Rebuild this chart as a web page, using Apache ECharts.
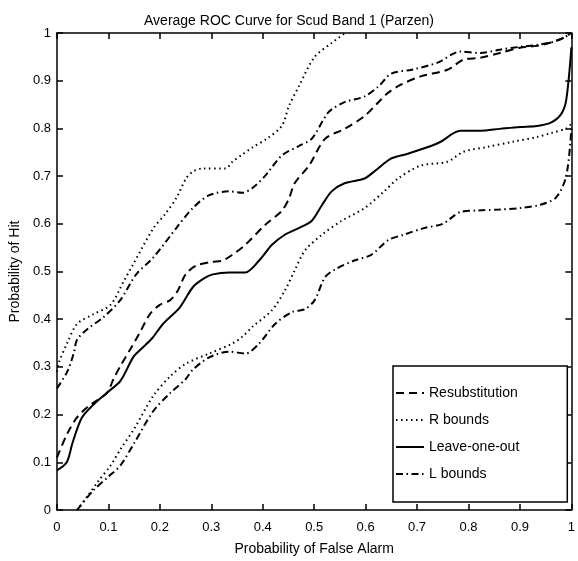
<!DOCTYPE html>
<html>
<head>
<meta charset="utf-8">
<script src="https://cdn.jsdelivr.net/npm/echarts@6/dist/echarts.min.js"></script>
<style>
  html, body { margin: 0; padding: 0; background: #fff; }
  #chart { width: 578px; height: 561px; }
</style>
</head>
<body>
<div id="chart"></div>
<script>
// ROC curves: [probability of false alarm, probability of hit]
const resubstitution = [
  [0, 0.11], [0.02, 0.16], [0.039, 0.194], [0.062, 0.218], [0.097, 0.245], [0.11, 0.275],
  [0.125, 0.305], [0.142, 0.336], [0.16, 0.37], [0.181, 0.411], [0.2, 0.43], [0.22, 0.44],
  [0.235, 0.46], [0.25, 0.494], [0.27, 0.512], [0.3, 0.52], [0.322, 0.523], [0.341, 0.535],
  [0.366, 0.556], [0.405, 0.598], [0.437, 0.627], [0.451, 0.653], [0.462, 0.685], [0.49, 0.722],
  [0.521, 0.778], [0.559, 0.799], [0.598, 0.826], [0.625, 0.855], [0.644, 0.875], [0.669, 0.892],
  [0.707, 0.909], [0.759, 0.923], [0.79, 0.944], [0.823, 0.948], [0.861, 0.958], [0.9, 0.969],
  [0.933, 0.973], [0.96, 0.98], [0.985, 0.99], [1, 1]
];
const leaveOneOut = [
  [0, 0.083], [0.019, 0.1], [0.03, 0.14], [0.048, 0.193], [0.07, 0.22], [0.096, 0.245],
  [0.123, 0.27], [0.148, 0.32], [0.162, 0.336], [0.185, 0.36], [0.206, 0.39], [0.239, 0.425],
  [0.264, 0.467], [0.285, 0.485], [0.303, 0.494], [0.335, 0.498], [0.366, 0.498], [0.393, 0.523],
  [0.418, 0.556], [0.443, 0.577], [0.47, 0.591], [0.495, 0.606], [0.515, 0.639], [0.534, 0.668],
  [0.559, 0.685], [0.598, 0.695], [0.617, 0.71], [0.65, 0.737], [0.682, 0.747], [0.727, 0.763],
  [0.746, 0.772], [0.784, 0.795], [0.823, 0.795], [0.861, 0.799], [0.9, 0.803], [0.933, 0.805],
  [0.96, 0.812], [0.98, 0.83], [0.99, 0.86], [1, 0.97]
];
const rBoundUpper = [
  [0, 0.29], [0.004, 0.31], [0.02, 0.35], [0.039, 0.39], [0.07, 0.41], [0.104, 0.43],
  [0.13, 0.48], [0.148, 0.515], [0.187, 0.59], [0.21, 0.62], [0.232, 0.654], [0.251, 0.695],
  [0.265, 0.71], [0.283, 0.716], [0.328, 0.716], [0.341, 0.73], [0.36, 0.745], [0.38, 0.76],
  [0.41, 0.78], [0.437, 0.805], [0.451, 0.847], [0.47, 0.888], [0.501, 0.95], [0.534, 0.979],
  [0.56, 1]
];
const rBoundLower = [
  [0.039, 0], [0.06, 0.03], [0.08, 0.06], [0.104, 0.093], [0.125, 0.13], [0.15, 0.17],
  [0.187, 0.239], [0.22, 0.28], [0.251, 0.307], [0.296, 0.328], [0.341, 0.349], [0.36, 0.363],
  [0.38, 0.384], [0.418, 0.419], [0.443, 0.46], [0.462, 0.502], [0.482, 0.544], [0.515, 0.577],
  [0.553, 0.606], [0.598, 0.633], [0.636, 0.668], [0.663, 0.695], [0.707, 0.722], [0.759, 0.73],
  [0.79, 0.751], [0.836, 0.761], [0.886, 0.772], [0.933, 0.782], [0.96, 0.79], [0.99, 0.8],
  [1, 0.81]
];
const lBoundUpper = [
  [0, 0.255], [0.02, 0.29], [0.033, 0.33], [0.039, 0.357], [0.06, 0.38], [0.09, 0.404],
  [0.123, 0.44], [0.154, 0.494], [0.187, 0.529], [0.232, 0.591], [0.264, 0.633], [0.296, 0.66],
  [0.335, 0.668], [0.36, 0.665], [0.38, 0.675], [0.405, 0.701], [0.437, 0.743], [0.47, 0.763],
  [0.495, 0.778], [0.528, 0.834], [0.559, 0.855], [0.598, 0.867], [0.625, 0.888], [0.65, 0.915],
  [0.69, 0.923], [0.74, 0.938], [0.784, 0.961], [0.823, 0.958], [0.861, 0.965], [0.9, 0.971],
  [0.933, 0.975], [0.96, 0.98], [0.985, 0.99], [1, 1]
];
const lBoundLower = [
  [0.039, 0], [0.07, 0.04], [0.1, 0.07], [0.123, 0.093], [0.15, 0.14], [0.187, 0.207],
  [0.22, 0.245], [0.25, 0.274], [0.264, 0.294], [0.296, 0.32], [0.335, 0.332], [0.366, 0.328],
  [0.393, 0.349], [0.424, 0.39], [0.457, 0.415], [0.482, 0.421], [0.501, 0.44], [0.521, 0.488],
  [0.54, 0.504], [0.578, 0.523], [0.611, 0.535], [0.644, 0.566], [0.674, 0.577], [0.713, 0.591],
  [0.75, 0.6], [0.785, 0.625], [0.82, 0.628], [0.86, 0.63], [0.9, 0.633], [0.94, 0.64],
  [0.97, 0.655], [0.99, 0.7], [1, 0.8]
];
const legendNames = ['Resubstitution', 'R bounds', 'Leave-one-out', 'L bounds'];
const titleText = 'Average ROC Curve for Scud Band 1 (Parzen)';
const xTitle = 'Probability of False Alarm';
const yTitle = 'Probability of Hit';

const FONT = "'Liberation Sans', Arial, Helvetica, sans-serif";
const tickFmt = v => (v === 0 ? '0' : v === 1 ? '1' : v.toFixed(1));

const dashStyles = {
  dashed: [8, 5],
  dotted: [1.5, 3.5],
  dashDot: [7, 3.5, 1.5, 3.5]
};

function curve(name, data, type, width) {
  return {
    name, type: 'line', data,
    xAxisIndex: 0, yAxisIndex: 0,
    symbol: 'none', smooth: 0.3,
    lineStyle: { color: '#000', width, type, cap: 'butt' },
    itemStyle: { color: '#000' },
    emphasis: { disabled: true },
    silent: true
  };
}

function frameAxis(pos, isX, showLabel) {
  const ax = {
    type: 'value', min: 0, max: 1, interval: 0.1, position: pos,
    axisLine: { show: true, onZero: false, lineStyle: { color: '#000', width: 1.5 } },
    axisTick: { show: true, inside: true, length: 6, lineStyle: { color: '#000', width: 1.5 } },
    splitLine: { show: false },
    axisLabel: {
      show: showLabel, formatter: tickFmt, color: '#000',
      fontFamily: FONT, fontSize: 13, margin: isX ? 11 : 6
    }
  };
  if (showLabel) {
    ax.name = isX ? xTitle : yTitle;
    ax.nameLocation = 'middle';
    ax.nameGap = isX ? 32 : 25;
    ax.nameTextStyle = { color: '#000', fontFamily: FONT, fontSize: 14 };
  }
  return ax;
}

const chart = echarts.init(document.getElementById('chart'), null, { renderer: 'canvas' });
chart.setOption({
  animation: false,
  backgroundColor: '#fff',
  title: {
    text: titleText, left: 'center', top: 9,
    textStyle: { color: '#000', fontFamily: FONT, fontSize: 14, fontWeight: 'normal' }
  },
  grid: { left: 53, right: 6, top: 33, bottom: 46 },
  xAxis: [frameAxis('bottom', true, true), frameAxis('top', true, false)],
  yAxis: [frameAxis('left', false, true), frameAxis('right', false, false)],
  legend: {
    data: legendNames,
    orient: 'vertical', left: 393, top: 366,
    padding: [20, 48, 21, 2], itemGap: 13,
    itemWidth: 28, itemHeight: 14,
    backgroundColor: '#fff', borderColor: '#000', borderWidth: 1.5, borderRadius: 0,
    itemStyle: { color: 'rgba(0,0,0,0)', borderWidth: 0, opacity: 0 },
    textStyle: { color: '#000', fontFamily: FONT, fontSize: 14 },
    selectedMode: false
  },
  series: [
    curve(legendNames[0], resubstitution, dashStyles.dashed, 2),
    curve(legendNames[1], rBoundUpper, dashStyles.dotted, 2),
    curve(legendNames[1], rBoundLower, dashStyles.dotted, 2),
    curve(legendNames[2], leaveOneOut, 'solid', 2),
    curve(legendNames[3], lBoundUpper, dashStyles.dashDot, 2),
    curve(legendNames[3], lBoundLower, dashStyles.dashDot, 2)
  ]
});
</script>
</body>
</html>
